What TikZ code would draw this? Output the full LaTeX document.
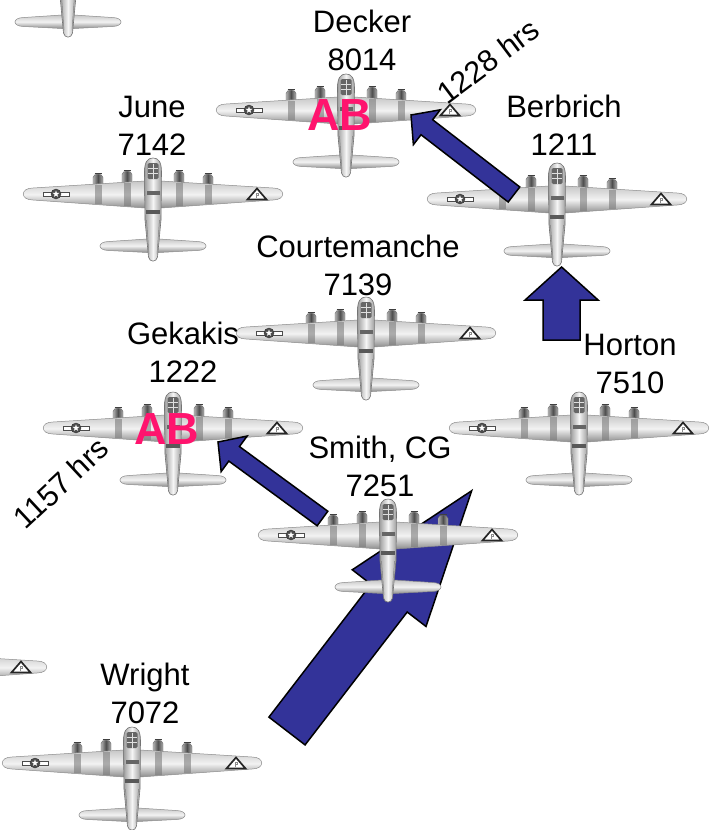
\documentclass[tikz,border=0pt]{standalone}
\usepackage{fontspec}
\setmainfont{Liberation Sans}
\usetikzlibrary{calc}
\definecolor{arrowblue}{RGB}{51,51,153}
\definecolor{abpink}{RGB}{255,20,110}
\newcommand\blockarrow[5]{%
  \coordinate (hbase) at ($(#1)!#3!(#2)$);
  \path[arrowsty] (#1) -- ($(hbase)!#4!90:(#2)$) -- ($(hbase)!#5!90:(#2)$)
    -- ($(#2)!#5!-90:(#1)$) -- ($(#2)!#5!90:(#1)$)
    -- ($(hbase)!#5!-90:(#2)$) -- ($(hbase)!#4!-90:(#2)$) -- cycle;
}
\tikzset{
  arrowsty/.style={fill=arrowblue, draw=black, line width=1.5pt, line join=miter},
  wingsty/.style={draw=black!45, line width=0.5pt, top color=black!22, bottom color=black!45, middle color=black!5},
  nacsty/.style={draw=black!60, line width=0.4pt, left color=black!30, right color=black!30, middle color=black!70},
  fussty/.style={draw=black!55, line width=0.6pt, left color=black!38, right color=black!38, middle color=black!4},
  lab/.style={font=\fontsize{31}{38}\selectfont, anchor=base, inner sep=0pt},
  rlab/.style={font=\fontsize{30.5}{36}\selectfont, anchor=center, inner sep=0pt},
  absty/.style={font=\bfseries\fontsize{45}{50}\selectfont, text=abpink, anchor=center, inner sep=0pt},
  plane/.pic={
    % horizontal stabilizer
    \path[wingsty] (-44,83.5) -- (-6,81) -- (6,81) -- (44,83.5) .. controls (56,83.5) and (56,92.5) .. (44,92.5)
      -- (6,94.5) -- (-6,94.5) -- (-44,92.5) .. controls (-56,92.5) and (-56,83.5) .. (-44,83.5) -- cycle;
    % engine nacelles
    \foreach \c/\t in {-55/15,-26/12,26/12,55/15} {
      \path[nacsty] (\c-5,29) -- (\c-5,\t+4.5) .. controls (\c-5,\t) and (\c+5,\t) .. (\c+5,\t+4.5) -- (\c+5,29) -- cycle;
      \draw[black!75, line width=0.5pt] (\c-3.5,\t+0.5) -- (\c+3.5,\t+0.5);
    }
    % wing
    \path[wingsty] (-120,30) -- (-8,23) -- (8,23) -- (120,30) .. controls (133,30) and (133,42) .. (120,42)
      -- (8,50) -- (-8,50) -- (-120,42) .. controls (-133,42) and (-133,30) .. (-120,30) -- cycle;
    \foreach \c/\a/\b in {-55/26.8/46,-26/25/48,26/25/48,55/26.8/46}
      \fill[black!55, opacity=.55] (\c-3.5,\a) rectangle (\c+3.5,\b);
    % roundel
    \filldraw[fill=white, draw=black!70, line width=0.5pt] (-110,33.8) rectangle (-84,38.2);
    \filldraw[fill=black!70, draw=black!80, line width=0.4pt] (-97,36) circle (5);
    \fill[white] (-97,36) +(-90:3.6) -- +(-54:1.4) -- +(-18:3.6) -- +(18:1.4) -- +(54:3.6)
      -- +(90:1.4) -- +(126:3.6) -- +(162:1.4) -- +(198:3.6) -- +(234:1.4) -- cycle;
    % triangle marking
    \filldraw[fill=white, draw=black!85, line width=1.7pt, line join=miter] (104,30.5) -- (113.5,41.5) -- (94.5,41.5) -- cycle;
    \draw[black!45, line width=0.6pt] (103,40) -- (103,35.5) -- (105.5,35.5) -- (105.5,37.5) -- (103,37.5);
    % fuselage
    \path[fussty] (0,0) .. controls (5.5,0) and (8.5,4) .. (8.5,14) -- (8,62) -- (4.5,99)
      .. controls (3.5,104.5) and (-3.5,104.5) .. (-4.5,99) -- (-8,62) -- (-8.5,14) .. controls (-8.5,4) and (-5.5,0) .. (0,0) -- cycle;
    \fill[black!60, rounded corners=1.5pt] (-5.5,5) rectangle (5.5,21);
    \draw[black!12, line width=0.7pt] (-5,10) -- (5,10) (-5,15) -- (5,15) (0,5.5) -- (0,20.5);
    \fill[black!60] (-6.5,33) rectangle (6.5,36.5);
    \fill[black!65] (-7,52) rectangle (7,56);
    \draw[black!50, line width=0.5pt] (-6.5,62) -- (-4,96) (6.5,62) -- (4,96);
  }
}
\begin{document}
\begin{tikzpicture}[x=1pt,y=-1pt]
\useasboundingbox (0,0) rectangle (711,830);
\fill[white] (0,0) rectangle (711,830);
\clip (0,0) rectangle (711,830);

% coordinates for arrows
\coordinate (tipC) at (471.7,490.7);
\coordinate (tailC) at (287,731);
\coordinate (tipA) at (411,115);
\coordinate (tailA) at (514,194.5);
\coordinate (tipB) at (218,442);
\coordinate (tailB) at (322.5,518.5);
\coordinate (tipD) at (561.6,267);
\coordinate (tailD) at (561.6,340);

% big arrow (behind Smith's plane)
\blockarrow{tipC}{tailC}{135.5pt}{46.5pt}{22.8pt}

% planes (nose positions)
\pic (pTop) at (68,-66) {plane};
\pic (pDecker) at (346,74) {plane};
\pic (pJune) at (153,158) {plane};
\pic (pBerbrich) at (557,163) {plane};
\pic (pCourt) at (366,297) {plane};
\pic (pGekakis) at (173,392) {plane};
\pic (pHorton) at (579,392) {plane};
\pic (pSmith) at (388,499) {plane};
\pic (pWright) at (132,727) {plane};
\pic (pLeft) at (-83,631) {plane};

% other arrows
\blockarrow{tipA}{tailA}{20pt}{22pt}{9.5pt}
\blockarrow{tipB}{tailB}{20pt}{22pt}{9pt}
\blockarrow{tipD}{tailD}{33pt}{36.5pt}{18.5pt}

% labels
\node[lab] (deckerN) at (362,32) {Decker};
\node[lab] (deckerS) at (362,70) {8014};
\node[lab] (juneN) at (152,117) {June};
\node[lab] (juneS) at (152,155) {7142};
\node[lab] (berbN) at (564,117) {Berbrich};
\node[lab] (berbS) at (564,155) {1211};
\node[lab] (courtN) at (358,257) {Courtemanche};
\node[lab] (courtS) at (358,295) {7139};
\node[lab] (gekN) at (183,344) {Gekakis};
\node[lab] (gekS) at (183,382) {1222};
\node[lab] (hortN) at (630,355) {Horton};
\node[lab] (hortS) at (630,393) {7510};
\node[lab] (smithN) at (380,458) {Smith, CG};
\node[lab] (smithS) at (380,496) {7251};
\node[lab] (wrightN) at (145,685) {Wright};
\node[lab] (wrightS) at (145,723) {7072};

\node[rlab, rotate=37] (hrsA) at (488,61) {1228 hrs};
\node[rlab, rotate=43] (hrsB) at (61,483) {1157 hrs};

\node[absty] (abDecker) at (340,115) {AB};
\node[absty] (abGekakis) at (167,429) {AB};
\end{tikzpicture}
\end{document}
